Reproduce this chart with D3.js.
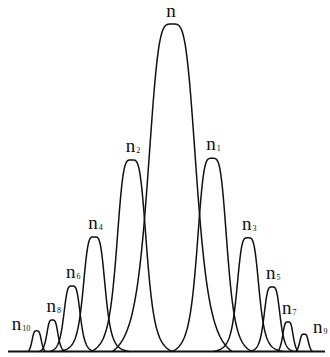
<!DOCTYPE html>
<html>
<head>
<meta charset="utf-8">
<script src="https://cdn.jsdelivr.net/npm/d3@7"></script>
<style>
  body { margin: 0; background: #fff; }
  svg { display: block; }
  .peak { fill: none; stroke: #111; stroke-width: 1.5; }
  .base { stroke: #111; stroke-width: 1.8; }
  .lbl { font-family: "Liberation Serif", serif; font-size: 19px; fill: #111; }
</style>
</head>
<body>
<script>
// peaks, left to right
var names     = ["10", "8", "6", "4", "2", "", "1", "3", "5", "7", "9"];
var centers   = [9.05, 14.0, 20.2, 27.2, 39.0, 51.8, 64.4, 75.7, 83.3, 88.3, 93.4];
var heights   = [6.3, 9.6, 20, 35, 58.5, 100, 59, 34.7, 19.7, 9, 5.3];
var widths    = [2.7, 4.1, 6.9, 11, 12.9, 18.9, 12.6, 11, 6.9, 3.3, 2.7];   // half width at the foot
var halfmaxes = [1.6, 1.9, 2.8, 3.7, 5.0, 8.1, 5.0, 3.7, 2.7, 1.8, 1.5];   // half width at half height

var width = 330, height = 357;

var svg = d3.select("body").append("svg")
    .attr("width", width)
    .attr("height", height);

var x = d3.scaleLinear().domain([0, 100]).range([8, 325]);
var y = d3.scaleLinear().domain([0, 100]).range([351.5, 24]);

// line profile: rounded top, steep sides, flaring tails, cut at the foot
var p = 4;
function profile(u, a) {
    function lor(v) { return 1 / (1 + Math.pow(v / a, p)); }
    u = Math.abs(u);
    if (u >= 1) return 0;
    return (lor(u) - lor(1)) / (1 - lor(1));
}

var peaks = names.map(function(n, i) {
    return {name: n, c: centers[i], h: heights[i], w: widths[i], a: halfmaxes[i] / widths[i], i: i};
});

var line = d3.line()
    .x(function(d) { return x(d[0]); })
    .y(function(d) { return y(d[1]); });

svg.append("line")
    .attr("class", "base")
    .attr("x1", x(0)).attr("x2", x(100))
    .attr("y1", y(0)).attr("y2", y(0));

svg.selectAll(".peak")
    .data(peaks)
    .enter().append("path")
    .attr("class", "peak")
    .attr("d", function(d) {
        var pts = d3.range(-1, 1.0001, 0.01).map(function(u) {
            return [d.c + u * d.w, d.h * profile(u, d.a)];
        });
        return line(pts);
    });

// labels sit above each peak, the two outermost beside it
var lbl = svg.selectAll(".lbl")
    .data(peaks)
    .enter().append("text")
    .attr("class", "lbl")
    .attr("x", function(d) {
        if (d.i == 0) return x(d.c) - 25;
        if (d.i == peaks.length - 1) return x(d.c) + 9;
        return x(d.c) - 6;
    })
    .attr("y", function(d) {
        if (d.i == 0 || d.i == peaks.length - 1) return y(d.h) - 1;
        return Math.max(y(d.h) - 8, 17);
    });

lbl.append("tspan").text("n");
lbl.append("tspan")
    .attr("font-size", 8)
    .attr("dx", 1)
    .attr("dy", 1)
    .text(function(d) { return d.name; });
</script>
</body>
</html>
